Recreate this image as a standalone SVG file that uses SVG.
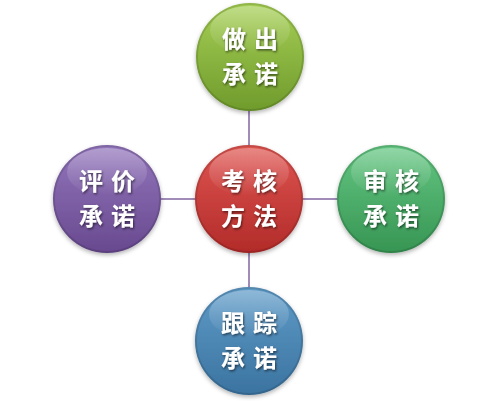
<svg xmlns="http://www.w3.org/2000/svg" width="500" height="401" viewBox="0 0 500 401">
<style>
.conn{stroke:#8064a2;stroke-width:1.5;fill:none}
.lbl{font-family:"Noto Sans CJK SC","Noto Sans CJK JP",sans-serif;font-size:24px;font-weight:bold;fill:#ffffff;letter-spacing:8px;filter:url(#ts)}
.rim{fill:none;stroke:#000;stroke-opacity:0.12;stroke-width:2}
.gloss{fill:url(#gl)}
</style>
<defs>
<filter id="ts" x="-20%" y="-20%" width="140%" height="160%"><feDropShadow dx="1" dy="1.5" stdDeviation="0.8" flood-color="#000" flood-opacity="0.55"/></filter>
<filter id="cs" x="-20%" y="-20%" width="140%" height="150%"><feDropShadow dx="0" dy="2" stdDeviation="2" flood-color="#000" flood-opacity="0.3"/></filter>
<linearGradient id="gl" x1="0" y1="0" x2="0" y2="1"><stop offset="0" stop-color="#fff" stop-opacity="0.3"/><stop offset="1" stop-color="#fff" stop-opacity="0"/></linearGradient>
<linearGradient id="gGreen" x1="0" y1="0" x2="0" y2="1"><stop offset="0" stop-color="#a6cf55"/><stop offset="1" stop-color="#6f9b2c"/></linearGradient>
<linearGradient id="gRed" x1="0" y1="0" x2="0" y2="1"><stop offset="0" stop-color="#df5551"/><stop offset="1" stop-color="#b22b29"/></linearGradient>
<linearGradient id="gPurple" x1="0" y1="0" x2="0" y2="1"><stop offset="0" stop-color="#9275bb"/><stop offset="1" stop-color="#68498f"/></linearGradient>
<linearGradient id="gEm" x1="0" y1="0" x2="0" y2="1"><stop offset="0" stop-color="#64c682"/><stop offset="1" stop-color="#379553"/></linearGradient>
<linearGradient id="gBlue" x1="0" y1="0" x2="0" y2="1"><stop offset="0" stop-color="#5f9bc8"/><stop offset="1" stop-color="#3b73a0"/></linearGradient>
</defs>
<rect width="500" height="401" fill="#ffffff"/>
<g id="connectors">
<line class="conn" x1="249" y1="110" x2="249" y2="146"/>
<line class="conn" x1="249" y1="252" x2="249" y2="288"/>
<line class="conn" x1="160" y1="199" x2="196" y2="199"/>
<line class="conn" x1="302" y1="199" x2="338" y2="199"/>
</g>
<g id="node-top">
<circle cx="250" cy="57" r="54" fill="url(#gGreen)" filter="url(#cs)"/>
<circle class="rim" cx="250" cy="57" r="53"/>
<ellipse class="gloss" cx="250" cy="30" rx="40" ry="24"/>
<text class="lbl" x="222 254" y="48">做出</text>
<text class="lbl" x="222 254" y="83">承诺</text>
</g>
<g id="node-center">
<circle cx="249" cy="199" r="54" fill="url(#gRed)" filter="url(#cs)"/>
<circle class="rim" cx="249" cy="199" r="53"/>
<ellipse class="gloss" cx="249" cy="172" rx="40" ry="24"/>
<text class="lbl" x="221 253" y="190">考核</text>
<text class="lbl" x="221 253" y="225">方法</text>
</g>
<g id="node-left">
<circle cx="107" cy="199" r="54" fill="url(#gPurple)" filter="url(#cs)"/>
<circle class="rim" cx="107" cy="199" r="53"/>
<ellipse class="gloss" cx="107" cy="172" rx="40" ry="24"/>
<text class="lbl" x="79 111" y="190">评价</text>
<text class="lbl" x="79 111" y="225">承诺</text>
</g>
<g id="node-right">
<circle cx="391" cy="199" r="54" fill="url(#gEm)" filter="url(#cs)"/>
<circle class="rim" cx="391" cy="199" r="53"/>
<ellipse class="gloss" cx="391" cy="172" rx="40" ry="24"/>
<text class="lbl" x="363 395" y="190">审核</text>
<text class="lbl" x="363 395" y="225">承诺</text>
</g>
<g id="node-bottom">
<circle cx="249" cy="341" r="54" fill="url(#gBlue)" filter="url(#cs)"/>
<circle class="rim" cx="249" cy="341" r="53"/>
<ellipse class="gloss" cx="249" cy="314" rx="40" ry="24"/>
<text class="lbl" x="221 253" y="332">跟踪</text>
<text class="lbl" x="221 253" y="367">承诺</text>
</g>
</svg>
